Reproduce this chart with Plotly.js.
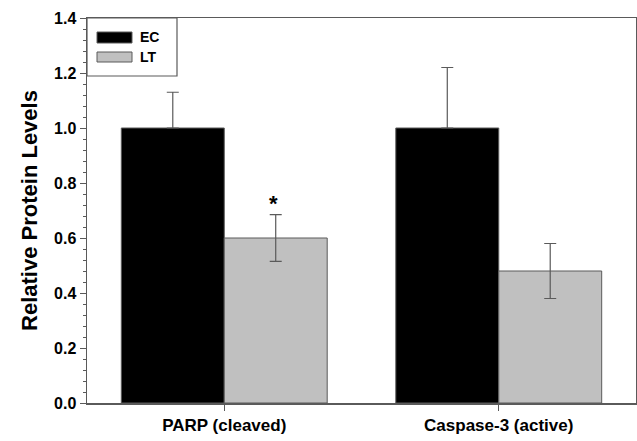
<!DOCTYPE html>
<html>
<head>
<meta charset="utf-8">
<script src="https://cdn.plot.ly/plotly-3.0.1.min.js"></script>
<style>html,body{margin:0;padding:0;background:#fff;}#chart{width:637px;height:441px;}</style>
</head>
<body>
<div id="chart"></div>
<script>
const categories = ['PARP (cleaved)', 'Caspase-3 (active)'];
const ecValues = [1.0, 1.0];
const ecErrors = [0.13, 0.22];
const ltValues = [0.6, 0.48];
const ltErrors = [0.085, 0.10];
const seriesNames = ['EC', 'LT'];
const yTickVals = [0, 0.2, 0.4, 0.6, 0.8, 1.0, 1.2, 1.4];
const yTickText = ['0.0', '0.2', '0.4', '0.6', '0.8', '1.0', '1.2', '1.4'];

const FONT = 'Liberation Sans, Arial, sans-serif';
const lineGray = '#5a5a5a';

const traces = [
  {
    type: 'bar', name: seriesNames[0], x: categories, y: ecValues,
    marker: {color: '#000000', line: {color: lineGray, width: 1}},
    error_y: {type: 'data', array: ecErrors, arrayminus: [0, 0], symmetric: false, color: lineGray, thickness: 1.2, width: 6},
    showlegend: false, hoverinfo: 'none'
  },
  {
    type: 'bar', name: seriesNames[1], x: categories, y: ltValues,
    marker: {color: '#c0c0c0', line: {color: lineGray, width: 1}},
    error_y: {type: 'data', array: ltErrors, color: lineGray, thickness: 1.2, width: 6},
    showlegend: false, hoverinfo: 'none'
  }
];

const layout = {
  width: 637, height: 441,
  margin: {l: 87, r: 1, t: 18, b: 38, pad: 0},
  paper_bgcolor: '#fff', plot_bgcolor: '#fff',
  barmode: 'group', bargap: 0.25, bargroupgap: 0,
  font: {family: FONT, color: '#000'},
  xaxis: {
    type: 'category', range: [-0.5, 1.5],
    showline: true, linecolor: lineGray, linewidth: 1.5, mirror: true,
    ticks: 'outside', ticklen: 6, tickcolor: lineGray, tickwidth: 1,
    tickfont: {family: FONT, size: 17, weight: 'bold', color: '#000'},
    showgrid: false, zeroline: false, fixedrange: true
  },
  yaxis: {
    range: [0, 1.4],
    tickvals: yTickVals, ticktext: yTickText,
    showline: true, linecolor: lineGray, linewidth: 1.5, mirror: true,
    ticks: 'outside', ticklen: 6, tickcolor: lineGray, tickwidth: 1,
    minor: {dtick: 0.04, ticks: 'outside', ticklen: 3, tickcolor: lineGray, tickwidth: 1, showgrid: false},
    tickfont: {family: FONT, size: 16, weight: 'bold', color: '#000'},
    title: {text: 'Relative Protein Levels', font: {family: FONT, size: 22, weight: 'bold', color: '#000'}, standoff: 10},
    showgrid: false, zeroline: false, fixedrange: true
  },
  shapes: [
    {type: 'rect', xref: 'paper', yref: 'paper', x0: 0, x1: 90/549, y0: 1 - 58/385, y1: 1,
     line: {color: lineGray, width: 1.2}, fillcolor: 'rgba(0,0,0,0)'},
    {type: 'rect', xref: 'paper', yref: 'paper', x0: 10/549, x1: 45/549, y0: 1 - 25/385, y1: 1 - 14/385,
     line: {color: lineGray, width: 1}, fillcolor: '#000'},
    {type: 'rect', xref: 'paper', yref: 'paper', x0: 10/549, x1: 45/549, y0: 1 - 44/385, y1: 1 - 34/385,
     line: {color: lineGray, width: 1}, fillcolor: '#c0c0c0'}
  ],
  annotations: [
    {xref: 'paper', yref: 'paper', x: 51/549, y: 1 - 19.5/385, xanchor: 'left', yanchor: 'middle',
     text: seriesNames[0], showarrow: false, font: {family: FONT, size: 14, weight: 'bold', color: '#000'}},
    {xref: 'paper', yref: 'paper', x: 51/549, y: 1 - 39/385, xanchor: 'left', yanchor: 'middle',
     text: seriesNames[1], showarrow: false, font: {family: FONT, size: 14, weight: 'bold', color: '#000'}},
    {xref: 'x', yref: 'y', x: categories[0], y: ltValues[0] + ltErrors[0], xshift: 49, yshift: 11,
     text: '*', showarrow: false, font: {family: FONT, size: 22, weight: 'bold', color: '#000'}}
  ]
};

Plotly.newPlot('chart', traces, layout, {displayModeBar: false, staticPlot: true});
</script>
</body>
</html>
